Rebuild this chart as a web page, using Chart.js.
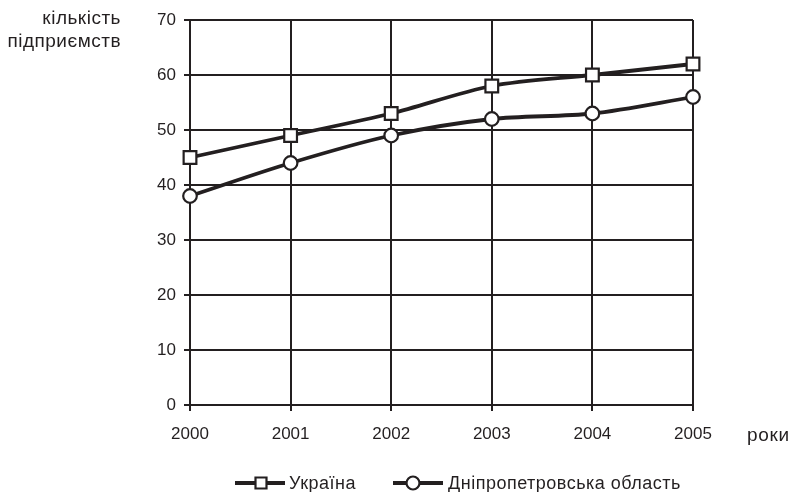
<!DOCTYPE html>
<html><head><meta charset="utf-8">
<script src="https://cdn.jsdelivr.net/npm/chart.js@4"></script>
<style>html,body{margin:0;padding:0;background:#fff}#wrap{width:792px;height:492px;position:relative}</style>
</head><body><div id="wrap"><canvas id="c" width="792" height="492"></canvas></div>
<script>
const years = ['2000','2001','2002','2003','2004','2005'];
const ukraine = [45, 49, 53, 58, 60, 62];
const dnipro = [38, 44, 49, 52, 53, 56];
const seriesNames = ['Україна', 'Дніпропетровська область'];
const yTitle = ['кількість', 'підприємств'];
const xTitle = 'роки';
const ink = '#231f20';
const FONT = '"Liberation Sans", Arial, sans-serif';

const annot = {
  id: 'annot',
  afterDraw(chart) {
    const ctx = chart.ctx;
    ctx.save();
    ctx.fillStyle = ink;
    ctx.font = '19px ' + FONT;
    ctx.letterSpacing = '0.5px';
    ctx.textAlign = 'right';
    ctx.textBaseline = 'middle';
    ctx.fillText(yTitle[0], 121, 19);
    ctx.fillText(yTitle[1], 121, 42);
    ctx.textAlign = 'left';
    ctx.letterSpacing = '0.7px';
    ctx.fillText(xTitle, 747, 436);
    // legend
    const ly = 483;
    const items = [
      {x0: 235, x1: 285, mx: 261, tx: 289, style: 'rect', label: seriesNames[0]},
      {x0: 393, x1: 443, mx: 413, tx: 448, style: 'circle', label: seriesNames[1]}
    ];
    ctx.font = '18px ' + FONT;
    ctx.letterSpacing = '0.5px';
    ctx.textBaseline = 'middle';
    items.forEach(it => {
      ctx.strokeStyle = ink; ctx.lineWidth = 3.8;
      ctx.beginPath(); ctx.moveTo(it.x0, ly); ctx.lineTo(it.x1, ly); ctx.stroke();
      ctx.fillStyle = '#fff'; ctx.lineWidth = 2.2;
      ctx.beginPath();
      if (it.style === 'rect') ctx.rect(it.mx - 5.5, ly - 5.5, 11, 11);
      else ctx.arc(it.mx, ly, 6.5, 0, Math.PI * 2);
      ctx.fill(); ctx.stroke();
      ctx.fillStyle = ink;
      ctx.fillText(it.label, it.tx, ly + 1);
    });
    ctx.restore();
  }
};

new Chart(document.getElementById('c'), {
  type: 'line',
  data: {
    labels: years,
    datasets: [
      {label: seriesNames[0], data: ukraine, borderColor: ink, borderWidth: 3.8, pointStyle: 'rect', pointRadius: 9, pointBorderWidth: 2.2, pointBackgroundColor: '#fff', pointBorderColor: ink, tension: 0.3},
      {label: seriesNames[1], data: dnipro, borderColor: ink, borderWidth: 3.8, pointStyle: 'circle', pointRadius: 6.8, pointBorderWidth: 2.2, pointBackgroundColor: '#fff', pointBorderColor: ink, tension: 0.3}
    ]
  },
  options: {
    responsive: false, animation: false,
    layout: {padding: {left: 0, right: 99, top: 20, bottom: 0}},
    plugins: {legend: {display: false}, tooltip: {enabled: false}},
    scales: {
      x: {
        offset: false,
        grid: {color: ink, lineWidth: 2, tickLength: 6, drawTicks: true},
        border: {color: ink, width: 2},
        ticks: {color: ink, font: {family: FONT, size: 17}, padding: 13, maxRotation: 0},
        afterFit(s) { s.height = 87; }
      },
      y: {
        min: 0, max: 70,
        grid: {color: ink, lineWidth: 2, tickLength: 6},
        border: {color: ink, width: 2},
        ticks: {stepSize: 10, color: ink, font: {family: FONT, size: 17}, padding: 8},
        afterFit(s) { s.width = 190; }
      }
    }
  },
  plugins: [annot]
});
</script></body></html>
